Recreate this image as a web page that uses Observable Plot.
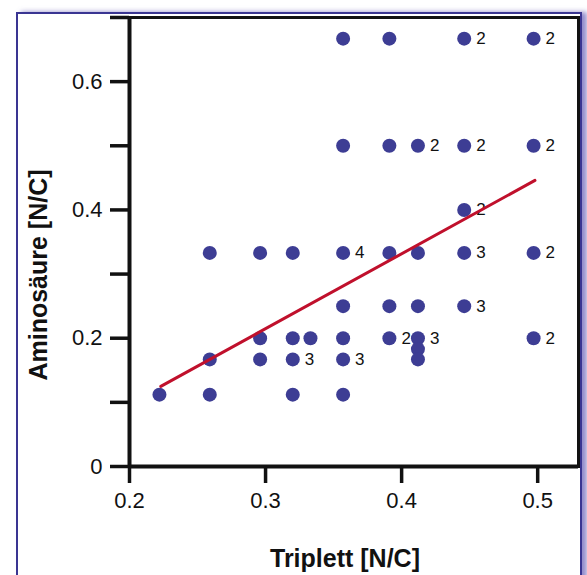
<!DOCTYPE html>
<html>
<head>
<meta charset="utf-8">
<script src="https://cdn.jsdelivr.net/npm/d3@7"></script>
<script src="https://cdn.jsdelivr.net/npm/@observablehq/plot@0.6"></script>
<style>
  html, body { margin: 0; padding: 0; background: #fff; }
  #wrap { position: relative; width: 587px; height: 575px; overflow: hidden; background: #fff; }
  #border { position: absolute; left: 16px; top: 12px; width: 562px; height: 640px;
            border: 2px solid #3a3592; box-shadow: 5px 0 5px rgba(110,100,185,0.75); }
  #chart { position: absolute; left: 0; top: 0; }
</style>
</head>
<body>
<div id="wrap"><div id="border"></div><div id="chart"></div></div>
<script>
// Data
const xs = [0.357, 0.391, 0.446, 0.497,
            0.357, 0.391, 0.412, 0.446, 0.497,
            0.446,
            0.259, 0.296, 0.320, 0.357, 0.391, 0.412, 0.446, 0.497,
            0.357, 0.391, 0.412, 0.446,
            0.296, 0.320, 0.333, 0.357, 0.391, 0.412, 0.497,
            0.412,
            0.259, 0.296, 0.320, 0.357, 0.412,
            0.222, 0.259, 0.320, 0.357];
const ys = [0.667, 0.667, 0.667, 0.667,
            0.5, 0.5, 0.5, 0.5, 0.5,
            0.4,
            0.333, 0.333, 0.333, 0.333, 0.333, 0.333, 0.333, 0.333,
            0.25, 0.25, 0.25, 0.25,
            0.2, 0.2, 0.2, 0.2, 0.2, 0.2, 0.2,
            0.183,
            0.167, 0.167, 0.167, 0.167, 0.167,
            0.112, 0.112, 0.112, 0.112];
const counts = ["", "", "2", "2",
                "", "", "2", "2", "2",
                "2",
                "", "", "", "4", "", "", "3", "2",
                "", "", "", "3",
                "", "", "", "", "2", "3", "2",
                "",
                "", "", "3", "3", "",
                "", "", "", ""];
// Regression line (endpoints)
const lineX = [0.223, 0.498];
const lineY = [0.125, 0.446];

const xTicks = [0.2, 0.3, 0.4, 0.5];
const xTickLabels = ["0.2", "0.3", "0.4", "0.5"];
const yTicks = [0, 0.1, 0.2, 0.3, 0.4, 0.5, 0.6, 0.7];
const yTickLabels = ["0", "", "0.2", "", "0.4", "", "0.6", ""];
const xTitle = "Triplett [N/C]";
const yTitle = "Aminosäure [N/C]";

const points = xs.map((x, i) => ({x, y: ys[i], n: counts[i]}));
const reg = lineX.map((x, i) => ({x, y: lineY[i]}));
const xLab = new Map(xTicks.map((t, i) => [t, xTickLabels[i]]));
const yLab = new Map(yTicks.map((t, i) => [t, yTickLabels[i]]));

const plot = Plot.plot({
  width: 587,
  height: 575,
  marginLeft: 129,
  marginRight: 9,
  marginTop: 17,
  marginBottom: 109,
  style: {background: "transparent", fontFamily: "'Liberation Sans', Arial, sans-serif", fontSize: "22px", color: "#111"},
  x: {domain: [0.2, 0.53]},
  y: {domain: [0, 0.7]},
  marks: [
    Plot.frame({stroke: "#111", strokeWidth: 3}),
    Plot.ruleX([0.2], {stroke: "#111", strokeWidth: 4}),
    Plot.ruleY([0], {stroke: "#111", strokeWidth: 4}),
    Plot.axisX({ticks: xTicks, tickFormat: d => xLab.get(d), tickSize: 17, tickPadding: 9, strokeWidth: 3.5, label: null, fontSize: 22}),
    Plot.axisY({ticks: yTicks, tickFormat: d => yLab.get(d), tickSize: 19, tickPadding: 8, strokeWidth: 3.5, label: null, fontSize: 22}),
    Plot.dot(points, {x: "x", y: "y", r: 7, fill: "#3d3d94", stroke: "none"}),
    Plot.text(points.filter(d => d.n !== ""), {x: "x", y: "y", text: "n", textAnchor: "start", dx: 12, fontSize: 17, fill: "#111"}),
    Plot.line(reg, {x: "x", y: "y", stroke: "#c0102c", strokeWidth: 3}),
    Plot.text([xTitle], {frameAnchor: "bottom", textAnchor: "middle", lineAnchor: "middle", dy: 92, dx: -9, fontSize: 25, fontWeight: "bold", fill: "#111"}),
    Plot.text([yTitle], {frameAnchor: "left", textAnchor: "middle", lineAnchor: "middle", rotate: -90, dx: -91, dy: 33, fontSize: 25, fontWeight: "bold", fill: "#111"})
  ]
});
document.getElementById("chart").appendChild(plot);
</script>
</body>
</html>
